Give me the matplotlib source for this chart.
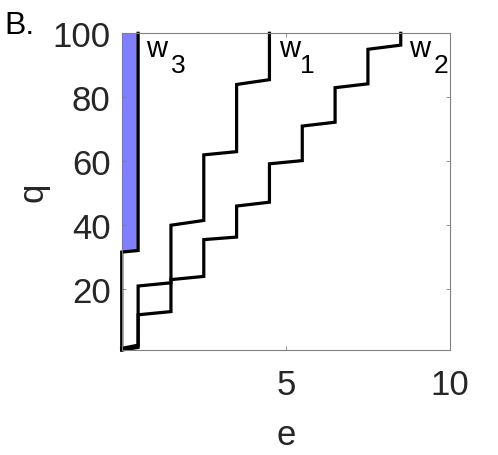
import numpy as np
import matplotlib.pyplot as plt

plt.rcParams['font.family'] = ['Liberation Sans', 'DejaVu Sans']

# staircase curves (e, q)
w1_e = [0, 0.5, 0.5, 1.5, 1.5, 2.5, 2.5, 3.5, 3.5, 4.5, 4.5]
w1_q = [1.5, 2.5, 21, 22, 40, 41.5, 62, 63, 84, 85.5, 100]

w2_e = [0, 0.5, 0.5, 1.5, 1.5, 2.5, 2.5, 3.5, 3.5, 4.5, 4.5, 5.5, 5.5, 6.5, 6.5, 7.5, 7.5, 8.5, 8.5]
w2_q = [1.0, 1.8, 12, 13, 23, 24, 35.5, 36.3, 46, 47.2, 59.2, 60.2, 71, 72.2, 83, 84.2, 95, 96.3, 100]

w3_e = [0, 0, 0.5, 0.5]
w3_q = [1, 31.6, 32.1, 100]

# curve names: letter and subscript
names = ['3', '1', '2']
name_e = [0.74, 4.78, 8.75]
sub_e = [1.5, 5.42, 9.5]

fig = plt.figure(figsize=(4.98, 4.56), dpi=100)
ax = fig.add_axes([0.2444, 0.2303, 0.6592, 0.6945])

# blue region left of w3
ax.fill(w3_e + [0], w3_q + [100], color='#7f7fff', lw=0)

for e, q in [(w1_e, w1_q), (w2_e, w2_q), (w3_e, w3_q)]:
    ax.plot(e, q, color='black', lw=2.3, solid_joinstyle='miter', clip_on=False)

for n, x, xs in zip(names, name_e, sub_e):
    ax.text(x, 93, 'w', fontsize=21, va='baseline', ha='left')
    ax.text(xs, 87.8, n, fontsize=19, va='baseline', ha='left')

ax.set_xlim(0, 10)
ax.set_ylim(1, 100)
ax.set_xticks([5, 10])
ax.set_yticks([20, 40, 60, 80, 100])
ax.tick_params(direction='in', length=3, width=0.6, colors='#808080',
               labelcolor='#262626', labelsize=25, top=True, right=True, pad=8)
ax.tick_params(axis='x', pad=13)
for s in ax.spines.values():
    s.set_color('#808080')
    s.set_linewidth(0.8)

ax.set_xlabel('e', fontsize=25, color='#262626', labelpad=12)
ax.set_ylabel('q', fontsize=25, color='#262626', labelpad=2)

fig.text(0.008, 0.975, 'B.', fontsize=23, va='top', ha='left')

fig.savefig('out.png', dpi=100)
